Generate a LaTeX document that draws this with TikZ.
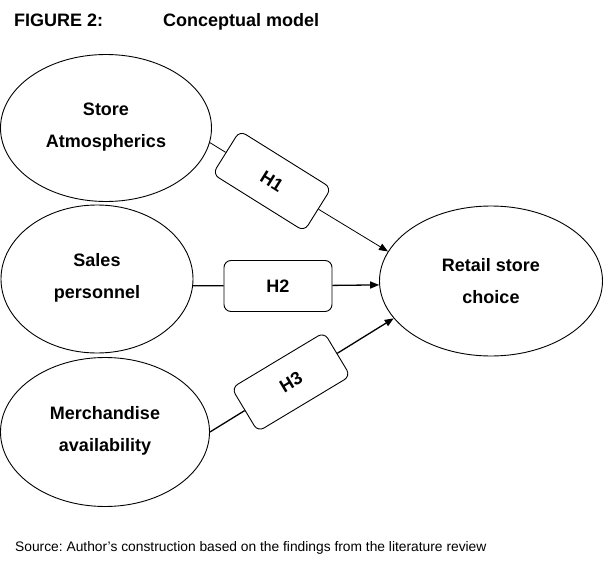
\documentclass[tikz,border=0pt]{standalone}
\usepackage{fontspec}
\setmainfont{Liberation Sans}
\usepackage{tikz}
\usetikzlibrary{shapes.geometric,arrows.meta,positioning}
\frenchspacing

\begin{document}
\begin{tikzpicture}[x=1pt,y=-1pt,
  every node/.style={font=\fontsize{18}{32}\selectfont\bfseries},
  construct/.style={draw, ellipse, line width=0.9pt, align=center, inner sep=0pt},
  hypo/.style={draw, fill=white, rounded corners=7pt, line width=0.9pt, minimum width=108pt, minimum height=51pt, inner sep=0pt},
  link/.style={line width=1.3pt},
  tip/.style={-{Triangle[length=9pt,width=7pt]}}]
\path[use as bounding box, fill=white] (0,0) rectangle (611,562);
\node[anchor=base west, inner sep=0pt] (fig)   at (14,26)  {FIGURE 2:};
\node[anchor=base west, inner sep=0pt] (title) at (163,26) {Conceptual model};
\node[construct, minimum width=211pt, minimum height=147pt] (atmos)  at (106,128) {Store\\Atmospherics\\[-26pt]};
\node[construct, minimum width=192pt, minimum height=148pt] (sales)  at (97,279)  {Sales\\personnel\\[-26pt]};
\node[construct, minimum width=209pt, minimum height=149pt] (merch)  at (105,432) {Merchandise\\availability\\[-26pt]};
\node[construct, minimum width=223pt, minimum height=150pt] (retail) at (491,281) {Retail store\\choice};
\node[hypo, rotate=-32] (h1) at (272,181) {H1};
\node[hypo]             (h2) at (278,286) {H2};
\node[hypo, rotate=31]  (h3) at (291,382) {H3};
\draw[line width=0.8pt] (atmos.-8) -- (h1);
\draw[line width=0.8pt, tip] (h1) -- (retail.164);
\draw[link] (sales.-4) -- (h2);
\draw[link, tip] (h2) -- (retail.182);
\draw[link] (merch.east) -- (h3);
\draw[link, tip] (h3) -- (retail.201);
\node[anchor=base west, inner sep=0pt, font=\fontsize{13.8}{16}\selectfont] (source) at (15,551) {Source: Author’s construction based on the findings from the literature review};
\end{tikzpicture}
\end{document}
